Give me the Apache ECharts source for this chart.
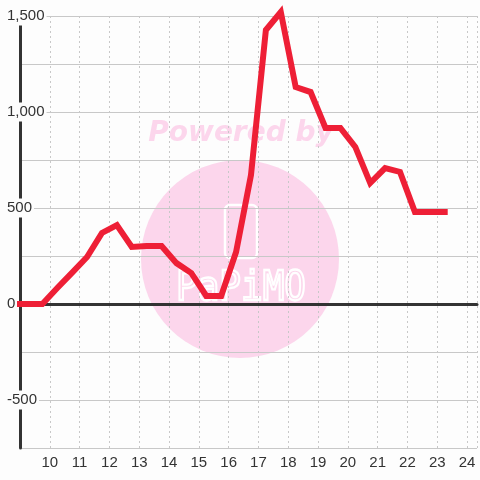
<!DOCTYPE html>
<html><head><meta charset="utf-8">
<script src="https://cdn.jsdelivr.net/npm/echarts@6/dist/echarts.min.js"></script>
<style>html,body{margin:0;padding:0;background:#fdfdfd}#c{width:480px;height:480px}</style>
</head><body><div id="c"></div>
<script>
// hour of day (half-hour slots)
var hours = [9.0, 9.25, 9.75, 10.25, 10.75, 11.25, 11.75, 12.25, 12.75, 13.25, 13.75, 14.25, 14.75, 15.25, 15.75, 16.25, 16.75, 17.25, 17.75, 18.25, 18.75, 19.25, 19.75, 20.25, 20.75, 21.25, 21.75, 22.25, 22.75, 23.25];
var values = [0, 0, 0, 83, 163, 245, 370, 411, 297, 302, 302, 213, 161, 42, 42, 271, 672, 1427, 1521, 1130, 1104, 917, 917, 818, 630, 708, 688, 479, 479, 479];
var xTickLabels = [10,11,12,13,14,15,16,17,18,19,20,21,22,23,24];
var yTickLabels = [-500, 0, 500, 1000, 1500];

var data = hours.map(function(h,i){return [h, values[i]];});
var chart = echarts.init(document.getElementById('c'));
var fmtNum = function(v){ return v.toLocaleString('en-US'); };
chart.setOption({
  backgroundColor: '#fdfdfd',
  animation: false,
  grid: {left: 20, right: 0, top: 16, bottom: 32, containLabel: false},
  xAxis: [{
    type: 'value', min: 9, max: 9 + 460/30, interval: 1, position: 'bottom',
    axisLine: {show: true, onZero: true, lineStyle: {color: '#333', width: 3}},
    axisTick: {show: false}, axisLabel: {show: false}, splitLine: {show: false}
  }, {
    type: 'value', min: 9, max: 9 + 460/30, interval: 1, position: 'bottom',
    axisLine: {show: false, onZero: false}, axisTick: {show: false},
    axisLabel: {margin: 7, color: '#333', fontSize: 15, fontFamily: 'Liberation Sans',
      formatter: function(v){ return xTickLabels.indexOf(v) >= 0 ? String(v) : ''; }},
    splitLine: {show: true, lineStyle: {color: '#c8c8c8', type: [2, 3], width: 1}}
  }],
  yAxis: {
    type: 'value', min: -750, max: 1500, interval: 250,
    axisLine: {show: true, lineStyle: {color: '#333', width: 3}},
    axisTick: {show: false},
    axisLabel: {align: 'left', margin: 13, color: '#333', fontSize: 15, fontFamily: 'Liberation Sans',
      backgroundColor: '#fdfdfd', padding: [4, 2, 0, 0],
      formatter: function(v){ return yTickLabels.indexOf(v) >= 0 ? fmtNum(v) : ''; }},
    splitLine: {show: true, lineStyle: {color: '#c8c8c8', width: 1}}
  },
  graphic: [
    {type: 'circle', z: -5, shape: {cx: 240, cy: 259, r: 99}, style: {fill: '#fcd6ec'}},
    {type: 'text', z: -5, x: 241, y: 134, style: {text: 'Powered by', fill: '#fcd6ec',
      font: 'italic bold 28px "DejaVu Sans"', align: 'center', verticalAlign: 'middle'}},
    {type: 'rect', z: -4, shape: {x: 225, y: 205, width: 32, height: 53, r: 5},
      style: {fill: 'none', stroke: '#ffffff', lineWidth: 2.5}},
    {type: 'text', z: -4, x: 241, y: 289, scaleY: 1.15, style: {text: 'PaPiMO', fill: 'none', stroke: '#ffffff', lineWidth: 2,
      font: '36px "DejaVu Sans Mono"', align: 'center', verticalAlign: 'middle'}}
  ],
  series: [{
    type: 'line', xAxisIndex: 0, data: data, showSymbol: false, symbol: 'none', clip: false,
    lineStyle: {color: '#ee1f36', width: 6, cap: 'square', join: 'miter'}, z: 5
  }]
});
</script></body></html>
